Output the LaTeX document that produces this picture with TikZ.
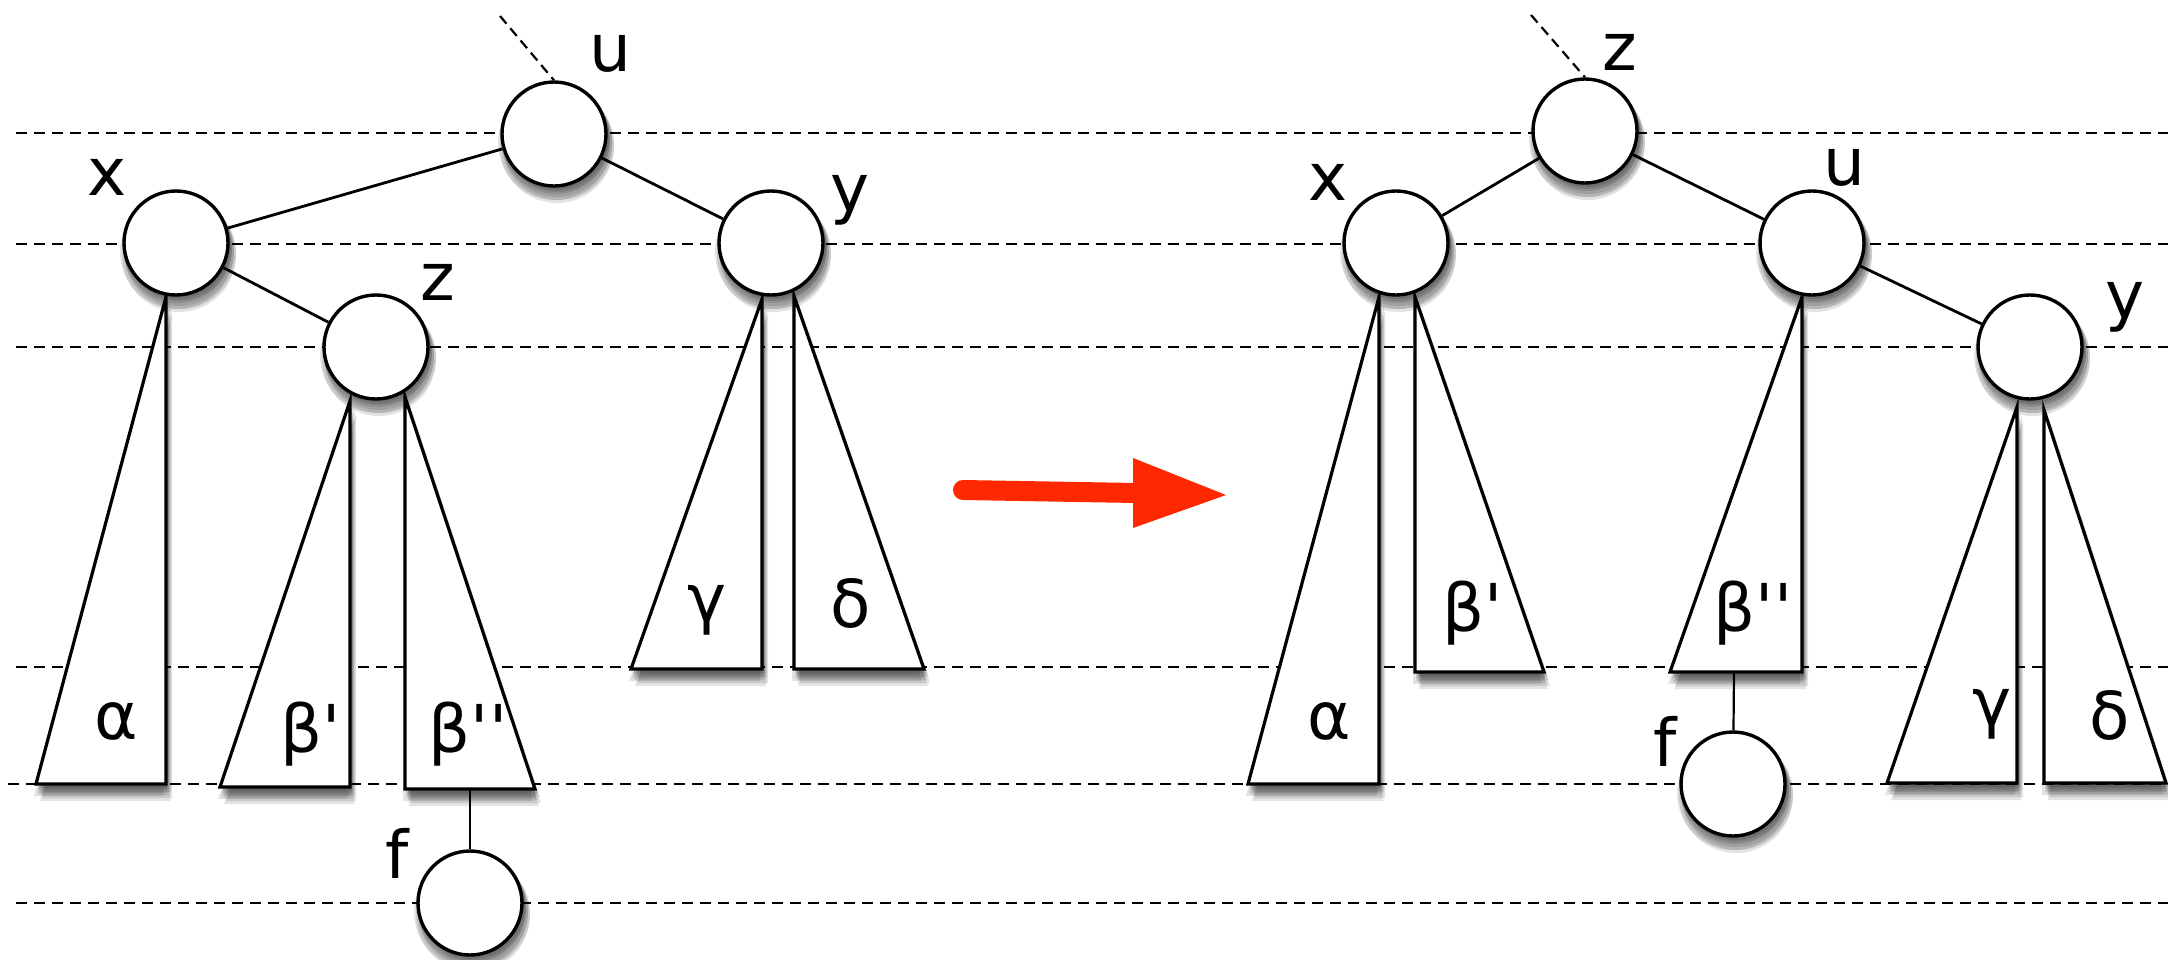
\documentclass[tikz,border=0pt]{standalone}
\usepackage{fontspec}
\newfontfamily\labfont{DejaVu Sans}
\definecolor{arrowred}{RGB}{255,40,0}
\begin{document}
\begin{tikzpicture}[x=0.5pt,y=-0.5pt,
  treenode/.style={circle,draw,line width=1.7pt,fill=white,minimum size=52pt,inner sep=0pt},
  subtree/.style={draw,line width=1.6pt,fill=white,line join=miter},
  shadowlayer/.style={fill=black,opacity=0.11},
  edge/.style={line width=1.4pt},
  thinedge/.style={line width=1.1pt},
  level/.style={line width=1.4pt,dash pattern=on 5.5pt off 3.5pt},
  parent/.style={line width=1.1pt,dash pattern=on 5pt off 3pt},
  lab/.style={font=\labfont\fontsize{33}{36}\selectfont,inner sep=0pt,anchor=base}
]
\useasboundingbox (0,0) rectangle (2168,959);
% level lines
\foreach \yy in {133,244,347,667,903} \draw[level] (16,\yy) -- (2168,\yy);
\draw[level] (8,784) -- (2168,784);

% ---------- subtree shadows (layered soft shadow) ----------
\foreach \dx/\dy in {4/17,6/14,-2/12,3/11,1/9,5/8,2/6,3/4}{
  \begin{scope}[shift={(\dx,\dy)}]
    \fill[shadowlayer]
      (166,297) -- (166,784) -- (36,784) -- cycle
      (350,401) -- (350,787) -- (220,787) -- cycle
      (405,397) -- (405,789) -- (535,789) -- cycle
      (762,299) -- (762,669) -- (631,669) -- cycle
      (794,296) -- (794,669) -- (924,669) -- cycle
      (1379,297) -- (1379,784) -- (1248,784) -- cycle
      (1415,297) -- (1415,672) -- (1544,672) -- cycle
      (1802,297) -- (1802,672) -- (1670,672) -- cycle
      (2017,407) -- (2017,783) -- (1887,783) -- cycle
      (2044,410) -- (2044,783) -- (2166,783) -- cycle;
  \end{scope}
}
% ---------- left tree: subtrees ----------
\draw[subtree] (166,297) -- (166,784) -- (36,784) -- cycle;
\draw[subtree] (350,401) -- (350,787) -- (220,787) -- cycle;
\draw[subtree] (405,397) -- (405,789) -- (535,789) -- cycle;
\draw[subtree] (762,299) -- (762,669) -- (631,669) -- cycle;
\draw[subtree] (794,296) -- (794,669) -- (924,669) -- cycle;
% ---------- right tree: subtrees ----------
\draw[subtree] (1379,297) -- (1379,784) -- (1248,784) -- cycle;
\draw[subtree] (1415,297) -- (1415,672) -- (1544,672) -- cycle;
\draw[subtree] (1802,297) -- (1802,672) -- (1670,672) -- cycle;
\draw[subtree] (2017,407) -- (2017,783) -- (1887,783) -- cycle;
\draw[subtree] (2044,410) -- (2044,783) -- (2166,783) -- cycle;

% ---------- node shadows (layered soft shadow) ----------
\foreach \dx/\dy/\rr in {3/12/57,4/10/56,1/9/57,3/8/55,2/6/54,3/5/53,2/3/53}{
  \begin{scope}[shift={(\dx,\dy)}]
    \fill[shadowlayer]
      (554,134) circle (\rr) (176,243) circle (\rr) (376,347) circle (\rr)
      (771,243) circle (\rr) (470,903) circle (\rr)
      (1585,131) circle (\rr) (1396,243) circle (\rr) (1812,243) circle (\rr)
      (2030,347) circle (\rr) (1733,784) circle (\rr);
  \end{scope}
}
% ---------- nodes ----------
\node[treenode] (Lu) at (554,134) {};
\node[treenode] (Lx) at (176,243) {};
\node[treenode] (Lz) at (376,347) {};
\node[treenode] (Ly) at (771,243) {};
\node[treenode] (Lf) at (470,903) {};
\node[treenode] (Rz) at (1585,131) {};
\node[treenode] (Rx) at (1396,243) {};
\node[treenode] (Ru) at (1812,243) {};
\node[treenode] (Ry) at (2030,347) {};
\node[treenode] (Rf) at (1733,784) {};

% ---------- connectors ----------
\coordinate (Lin) at (500,16);
\coordinate (Rin) at (1531,15);
\coordinate (Lbpp) at (470,789);
\coordinate (Rbpp) at (1734,672);
\draw[parent] (Lin) -- (Lu.north);
\draw[parent] (Rin) -- (Rz.north);
\draw[edge] (Lu) -- (Lx);
\draw[edge] (Lu) -- (Ly);
\draw[edge] (Lx) -- (Lz);
\draw[thinedge] (Lbpp) -- (Lf);
\draw[edge] (Rz) -- (Rx);
\draw[edge] (Rz) -- (Ru);
\draw[edge] (Ru) -- (Ry);
\draw[thinedge] (Rbpp) -- (Rf);

% ---------- labels ----------
\node[lab] (tLu) at (610,71) {u};
\node[lab] (tLx) at (107,195) {x};
\node[lab] (tLz) at (438,300) {z};
\node[lab] (tLy) at (850,211) {y};
\node[lab] (tLf) at (397,878) {f};
\node[lab] (tLa) at (116,739) {α};
\node[lab] (tLb1) at (311,752) {β'};
\node[lab] (tLb2) at (468,752) {β''};
\node[lab] (tLg) at (707,621) {γ};
\node[lab] (tLd) at (851,627) {δ};
\node[lab] (tRz) at (1620,70) {z};
\node[lab] (tRx) at (1328,200) {x};
\node[lab] (tRu) at (1844,185) {u};
\node[lab] (tRy) at (2125,318) {y};
\node[lab] (tRf) at (1665,766) {f};
\node[lab] (tRa) at (1329,739) {α};
\node[lab] (tRb1) at (1473,631) {β'};
\node[lab] (tRb2) at (1753,631) {β''};
\node[lab] (tRg) at (1992,725) {γ};
\node[lab] (tRd) at (2110,739) {δ};

% ---------- red arrow ----------
\coordinate (As) at (963,490);
\coordinate (Ae) at (1136,493);
\coordinate (Ht) at (1133,458);
\coordinate (Hp) at (1226,495);
\coordinate (Hb) at (1133,528);
\draw[arrowred,line width=10pt,line cap=round] (As) -- (Ae);
\fill[arrowred] (Ht) -- (Hp) -- (Hb) -- cycle;
\end{tikzpicture}
\end{document}
